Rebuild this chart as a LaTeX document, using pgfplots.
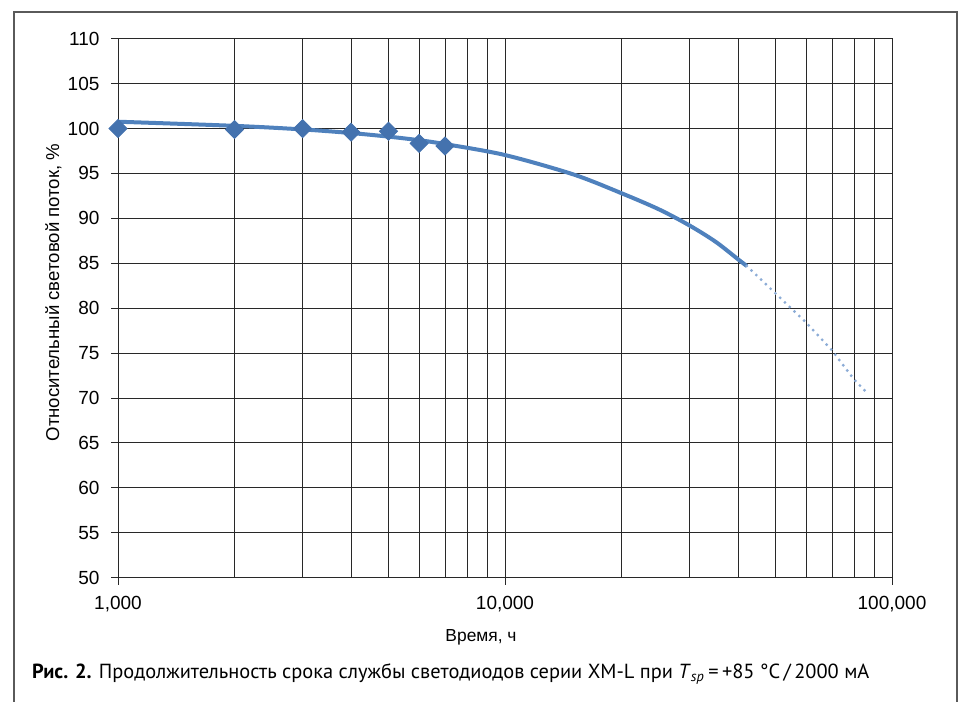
\documentclass[border=0pt]{standalone}
\usepackage{fontspec}
\setmainfont{Liberation Sans}
\newfontfamily\capfont{PT Sans}
\usepackage{pgfplots}
\pgfplotsset{compat=1.18}
\definecolor{serie}{RGB}{79,129,189}
\definecolor{markc}{RGB}{68,114,174}
\definecolor{prognoz}{RGB}{140,172,214}
\definecolor{gridc}{RGB}{40,40,40}
\definecolor{framec}{RGB}{90,90,90}

\begin{document}
\begin{tikzpicture}
\begin{axis}[
scale only axis,
width=387pt, height=269.5pt,
xmode=log,
xmin=1000, xmax=100000,
ymin=50, ymax=110,
xtick={1000,10000,100000},
xticklabels={{1,000},{10,000},{100,000}},
minor xtick={2000,3000,4000,5000,6000,7000,8000,9000,20000,30000,40000,50000,60000,70000,80000,90000},
ytick={50,55,...,110},
xmajorgrids, xminorgrids, ymajorgrids,
major grid style={gridc, line width=0.5pt},
minor grid style={gridc, line width=0.5pt},
axis line style={gridc, line width=0.5pt},
tick style={gridc, line width=0.5pt},
tick align=outside,
major tick length=3.5pt, minor tick length=0pt,
xtick pos=bottom, ytick pos=left,
/pgf/number format/assume math mode=true,
tick label style={font=\fontsize{9.5}{11}\selectfont},
yticklabel style={xshift=-2.3pt},
xticklabel style={yshift=-2pt},
every axis x label/.style={at={(axis description cs:0.469,-0.1187)}, anchor=base, font=\fontsize{8.7}{10}\selectfont},
every axis y label/.style={at={(axis description cs:-0.0762,0.529)}, rotate=90, anchor=base, font=\fontsize{9.3}{11}\selectfont},
xlabel={Время, ч},
ylabel={Относительный световой поток, \%},
]
% аппроксимация (сплошная)
\addplot[serie, line width=2pt, smooth, no markers] coordinates {
(1000,100.76) (2000,100.3) (3000,99.9) (4000,99.5) (5000,99.1)
(6000,98.7) (7000,98.27) (10000,97.05) (15000,94.9)
(20000,92.8) (25000,91.0) (30000,89.2) (35000,87.4) (40000,85.45) (42130,84.7)
};
% прогноз (пунктир)
\addplot[prognoz, line width=1.6pt, line cap=round, dash pattern=on 0pt off 3.3pt, no markers] coordinates {
(42130,84.7) (50000,81.65) (60000,78.4) (70000,75.3) (80000,72.0) (86150,70.6)
};
% измерения
\addplot[only marks, mark=square*, mark size=3.2pt, mark options={rotate=45, fill=markc, draw=markc}] coordinates {
(1000,100.0) (2000,99.9) (3000,100.0) (4000,99.6) (5000,99.7) (6000,98.35) (7000,98.05)
};
\end{axis}
\draw[framec, line width=0.65pt] (-52pt,-62.15pt) -- (-52pt,282.85pt) -- (419.5pt,282.85pt) -- (419.5pt,-62.15pt);
\node[anchor=base west, inner sep=0pt, font=\capfont\fontsize{10.2}{12}\selectfont] at (-43.15pt,-50.65pt)
{\textbf{Рис. 2.} Продолжительность срока службы светодиодов серии XM-L при \textit{T}\textsubscript{\textit{sp}}\,=\,+85~°C\,/\,2000 мА};
\pgfresetboundingbox
\useasboundingbox (-59pt,-62.15pt) rectangle (421pt,288.85pt);
\end{tikzpicture}
\end{document}
